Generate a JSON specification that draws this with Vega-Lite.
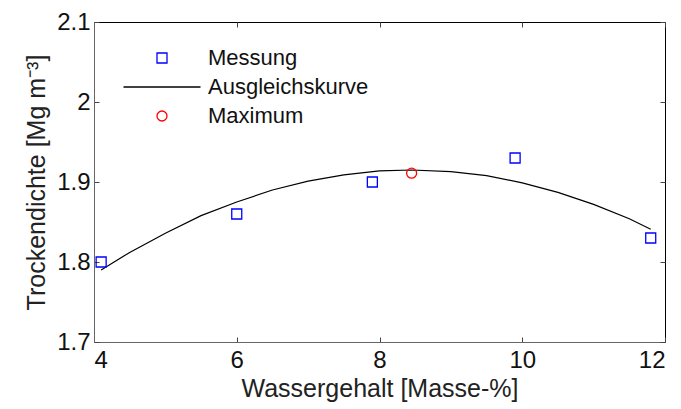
{
  "$schema": "https://vega.github.io/schema/vega-lite/v6.json",
  "autosize": "none",
  "width": 571,
  "height": 320,
  "padding": {"left": 94, "top": 22, "right": 16, "bottom": 67},
  "background": "white",
  "config": {
    "font": "Liberation Sans",
    "view": {"stroke": "black", "strokeWidth": 1},
    "axis": {"grid": false, "labelFontSize": 24, "titleFontSize": 25, "labelColor": "#111", "titleColor": "#222", "titleFontWeight": "normal", "domainColor": "#666", "tickColor": "#444", "tickSize": -5}
  },
  "data": {"values": [
    {"x": 4.1, "y": 1.80, "series": "Messung"},
    {"x": 6.0, "y": 1.86, "series": "Messung"},
    {"x": 7.9, "y": 1.90, "series": "Messung"},
    {"x": 9.9, "y": 1.93, "series": "Messung"},
    {"x": 11.8, "y": 1.83, "series": "Messung"},
    {"x": 8.45, "y": 1.911, "series": "Maximum"},
    {"x": 4.1, "y": 1.790, "series": "Ausgleichskurve"},
    {"x": 4.5, "y": 1.812, "series": "Ausgleichskurve"},
    {"x": 5.0, "y": 1.836, "series": "Ausgleichskurve"},
    {"x": 5.5, "y": 1.858, "series": "Ausgleichskurve"},
    {"x": 6.0, "y": 1.875, "series": "Ausgleichskurve"},
    {"x": 6.5, "y": 1.890, "series": "Ausgleichskurve"},
    {"x": 7.0, "y": 1.901, "series": "Ausgleichskurve"},
    {"x": 7.5, "y": 1.909, "series": "Ausgleichskurve"},
    {"x": 8.0, "y": 1.914, "series": "Ausgleichskurve"},
    {"x": 8.45, "y": 1.915, "series": "Ausgleichskurve"},
    {"x": 9.0, "y": 1.913, "series": "Ausgleichskurve"},
    {"x": 9.5, "y": 1.908, "series": "Ausgleichskurve"},
    {"x": 10.0, "y": 1.899, "series": "Ausgleichskurve"},
    {"x": 10.5, "y": 1.887, "series": "Ausgleichskurve"},
    {"x": 11.0, "y": 1.872, "series": "Ausgleichskurve"},
    {"x": 11.5, "y": 1.854, "series": "Ausgleichskurve"},
    {"x": 11.8, "y": 1.841, "series": "Ausgleichskurve"}
  ]},
  "layer": [
    {
      "transform": [{"filter": "datum.series === 'Ausgleichskurve'"}],
      "mark": {"type": "line", "color": "black", "strokeWidth": 1.2},
      "encoding": {
        "x": {"field": "x", "type": "quantitative", "scale": {"domain": [4, 12], "nice": false, "zero": false},
              "axis": {"orient": "bottom", "values": [4, 6, 8, 10, 12], "title": "Wassergehalt [Masse-%]", "labelPadding": 11, "titlePadding": 4}},
        "y": {"field": "y", "type": "quantitative", "scale": {"domain": [1.7, 2.1], "nice": false, "zero": false},
              "axis": {"orient": "left", "values": [1.7, 1.8, 1.9, 2.0, 2.1], "format": "~g", "title": "Trockendichte [Mg m⁻³]", "labelPadding": 9, "titlePadding": 7}}
      }
    },
    {
      "transform": [{"filter": "datum.series !== 'Ausgleichskurve'"}],
      "mark": {"type": "point", "filled": false, "strokeWidth": 1.3, "size": 100, "opacity": 1},
      "encoding": {
        "x": {"field": "x", "type": "quantitative",
              "axis": {"orient": "top", "values": [4, 6, 8, 10, 12], "labels": false, "title": null, "domain": false}},
        "y": {"field": "y", "type": "quantitative",
              "axis": {"orient": "right", "values": [1.7, 1.8, 1.9, 2.0, 2.1], "labels": false, "title": null, "domain": false}},
        "color": {"field": "series", "type": "nominal",
                  "scale": {"domain": ["Messung", "Ausgleichskurve", "Maximum"], "range": ["#0000ff", "#000000", "#ff0000"]},
                  "legend": {"title": null, "orient": "none", "legendX": 57, "legendY": 25, "labelFontSize": 22, "labelLimit": 0, "labelColor": "#111", "labelOffset": 35, "rowPadding": 7, "symbolSize": 100, "symbolStrokeWidth": 1.3, "padding": 0}},
        "shape": {"field": "series", "type": "nominal",
                  "scale": {"domain": ["Messung", "Ausgleichskurve", "Maximum"], "range": ["square", "M-7.7,0L7.7,0", "circle"]},
                  "legend": {"title": null, "orient": "none", "legendX": 57, "legendY": 25, "labelFontSize": 22, "labelLimit": 0, "labelColor": "#111", "labelOffset": 35, "rowPadding": 7, "symbolSize": 100, "symbolStrokeWidth": 1.3, "padding": 0}}
      }
    }
  ],
  "resolve": {"axis": {"x": "independent", "y": "independent"}}
}
